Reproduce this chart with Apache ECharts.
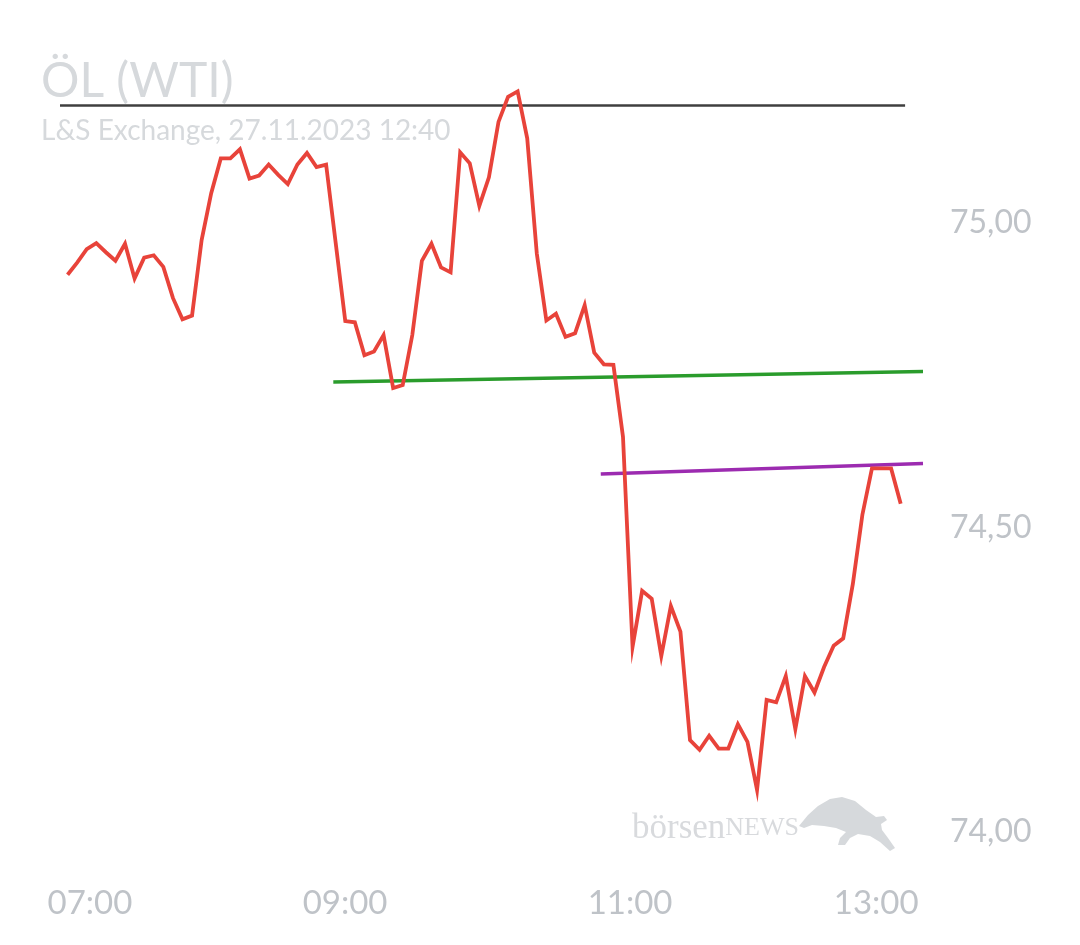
<!DOCTYPE html>
<html>
<head>
<meta charset="utf-8">
<script src="https://cdn.jsdelivr.net/npm/echarts@6/dist/echarts.min.js"></script>
<style>
html,body{margin:0;padding:0;background:#fff;}
#chart{width:1080px;height:945px;}
</style>
</head>
<body>
<div id="chart"></div>
<script>
// ---- data ----
const titleText = 'ÖL (WTI)';
const subtitleText = 'L&S Exchange, 27.11.2023 12:40';

// price series (one value per tick, index order)
const prices = [
  74.915, 74.935, 74.957, 74.967, 74.952, 74.938, 74.966, 74.909, 74.943, 74.947,
  74.928, 74.877, 74.842, 74.848, 74.972, 75.049, 75.106, 75.106, 75.121, 75.073,
  75.078, 75.096, 75.079, 75.064, 75.096, 75.115, 75.092, 75.096, 74.967, 74.839,
  74.837, 74.783, 74.789, 74.816, 74.729, 74.734, 74.816, 74.938, 74.966, 74.927,
  74.919, 75.116, 75.098, 75.028, 75.075, 75.166, 75.207, 75.216, 75.139, 74.950,
  74.840, 74.851, 74.813, 74.819, 74.865, 74.787, 74.768, 74.767, 74.649, 74.304,
  74.396, 74.383, 74.289, 74.371, 74.329, 74.151, 74.135, 74.158, 74.137, 74.137,
  74.177, 74.148, 74.069, 74.217, 74.213, 74.256, 74.169, 74.256, 74.229, 74.271,
  74.306, 74.318, 74.407, 74.521, 74.597, 74.597, 74.597, 74.539
];

// reference / trend lines: [index, value] end points
const highLine   = [[-0.79, 75.193], [87.46, 75.193]];
const greenTrend = [[27.75, 74.739], [89.33, 74.756]];
const purpleTrend = [[55.68, 74.588], [89.33, 74.605]];

// x tick labels and their index positions
const tickLabels = ['07:00', '09:00', '11:00', '13:00'];
const tickIndex  = [2.34, 28.98, 58.74, 84.44];

// y axis
const yMin = 74.0, yMax = 75.3, yStep = 0.5;

const chart = echarts.init(document.getElementById('chart'), null, {renderer: 'canvas'});
const labelColor = '#bfc3c8';
const FONT = 'Lato, "Open Sans", sans-serif';

chart.setOption({
  animation: false,
  backgroundColor: '#ffffff',
  title: {
    text: titleText,
    subtext: subtitleText,
    left: 36,
    top: 53,
    itemGap: 11,
    textStyle: {color: '#d6d9dc', fontSize: 48, fontWeight: 'normal', fontFamily: FONT},
    subtextStyle: {color: '#d6d9dc', fontSize: 28, fontFamily: FONT}
  },
  grid: {left: 60, right: 157, top: 40.3, bottom: 113, containLabel: false},
  xAxis: {
    type: 'value',
    min: -0.79,
    max: 89.33,
    axisLine: {show: false},
    axisTick: {show: false},
    splitLine: {show: false},
    axisLabel: {
      customValues: tickIndex,
      color: labelColor,
      fontSize: 33,
      fontFamily: FONT,
      margin: 55,
      formatter: function (v) {
        const i = tickIndex.findIndex(t => Math.abs(t - v) < 1e-6);
        return i >= 0 ? tickLabels[i] : '';
      }
    }
  },
  yAxis: {
    type: 'value',
    position: 'right',
    min: yMin,
    max: yMax,
    interval: yStep,
    axisLine: {show: false},
    axisTick: {show: false},
    splitLine: {show: false},
    axisLabel: {
      color: labelColor,
      fontSize: 32,
      fontFamily: FONT,
      margin: 27,
      formatter: function (v) {
        const r = v / yStep;
        if (Math.abs(r - Math.round(r)) > 1e-6) return '';
        return v.toFixed(2).replace('.', ',');
      }
    }
  },
  graphic: [
    {
      type: 'text',
      left: 632,
      top: 811,
      z: 1,
      style: {
        text: '{a|börsen}{b|NEWS}',
        rich: {
          a: {fontFamily: '"Liberation Serif", "DejaVu Serif", serif', fontSize: 35, fill: '#d8dadd'},
          b: {fontFamily: '"Liberation Serif", "DejaVu Serif", serif', fontSize: 26, fill: '#d8dadd'}
        }
      }
    },
    {
      type: 'polygon',
      z: 1,
      shape: {
        points: [
          [799, 826], [808, 815], [818, 806], [830, 799], [842, 797], [855, 801],
          [866, 810], [876, 817], [884, 816], [887, 820], [881, 824], [882, 830],
          [888, 838], [895, 848], [890, 851], [880, 842], [870, 836], [858, 834],
          [850, 838], [845, 845], [838, 845], [840, 838], [846, 832], [836, 828],
          [824, 826], [812, 825], [804, 828]
        ]
      },
      style: {fill: '#d6d9dc'}
    }
  ],
  series: [
    {
      name: 'high',
      type: 'line',
      data: highLine,
      symbol: 'none',
      clip: false,
      z: 2,
      lineStyle: {color: '#3f3f3f', width: 2.5},
      silent: true
    },
    {
      name: 'WTI',
      type: 'line',
      data: prices.map((v, i) => [i, v]),
      symbol: 'none',
      clip: false,
      z: 5,
      lineStyle: {color: '#e8433a', width: 3.8, join: 'miter'}
    },
    {
      name: 'support',
      type: 'line',
      data: greenTrend,
      symbol: 'none',
      clip: false,
      z: 4,
      lineStyle: {color: '#2a9c2c', width: 3.5}
    },
    {
      name: 'resistance',
      type: 'line',
      data: purpleTrend,
      symbol: 'none',
      clip: false,
      z: 4,
      lineStyle: {color: '#9c2bb0', width: 3.5}
    }
  ]
});
</script>
</body>
</html>
